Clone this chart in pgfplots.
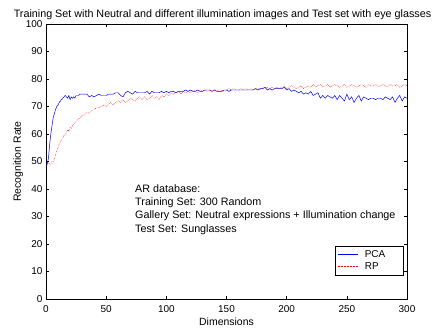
\documentclass[border=0pt]{standalone}
\usepackage{pgfplots}
\pgfplotsset{compat=1.18}
\usepackage{fontspec}
\setmainfont{Liberation Sans}
\begin{document}
\begin{tikzpicture}
\path[use as bounding box] (-46bp,-30bp) rectangle (389bp,299bp);
\begin{axis}[
  at={(0,0)}, anchor=south west,
  scale only axis, width=361bp, height=275bp,
  xmin=0, xmax=300, ymin=0, ymax=100,
  xtick={0,50,...,300}, ytick={0,10,...,100},
  tick align=inside, tickwidth=3bp,
  axis line style={black, line width=0.5pt},
  every tick/.style={black, line width=0.5pt},
  font=\fontsize{10.5}{12}\selectfont,
  tick label style={font=\fontsize{10}{12}\selectfont},
  xticklabel style={yshift=-3bp},
  /pgf/number format/assume math mode=true,
  xlabel={Dimensions}, ylabel={Recognition Rate},
  xlabel style={yshift=1bp},
  ylabel style={yshift=-4bp},
  title={Training Set with Neutral and different illumination images and Test set with eye glasses},
  title style={font=\fontsize{10.8}{12}\selectfont, yshift=-5bp, xshift=-4bp},
  legend style={at={(rel axis cs:0.989,0.193)}, anchor=north east, draw=black, fill=white,
    font=\fontsize{10}{11}\selectfont, cells={anchor=west}, inner xsep=2bp, inner ysep=2bp, row sep=0bp,
    /tikz/every odd column/.append style={column sep=5bp}},
  legend image code/.code={\draw[#1] (0bp,0bp) -- (20bp,0bp);},
]
\addplot[blue, line width=0.5pt] coordinates {
(1,49)(2,51)(3,56)(4,60)(5,63)(6,66)(7,67.5)(8,69)(9,70)(10,70.5)(11,71.5)(12,72)(13,72.5)(14,73)(15,73.5)(16,74)(17,73.5)(18,73)(19,74)(20,72.5)(21,73.5)(22,73)(23,73.5)(24,73)(25,74)(26,74)(27,74)(28,74.5)(29,74.5)(30,74.5)
(32,74.5)(34,74.5)(36,73.5)(38,74)(40,73.5)(42,74)(44,74.5)(46,74)(48,74)(50,74)(52,74.5)(54,74.5)(56,74.5)(58,75)(60,75)(62,74)(64,73.5)(66,75)(68,75.5)(70,75)(72,74.5)(74,75.5)(76,75)(78,75)(80,75)(82,75)(84,75.5)(86,74.5)(88,75.5)(90,75)(92,75)(94,75)(96,75.5)(98,75)(100,75.5)
(102,75)(104,75.5)(106,75.5)(108,75)(110,75.5)(112,75.5)(114,75.5)(116,76)(118,75.5)(120,76)(122,75.5)(124,75.5)(126,76)(128,75.5)(130,75.5)(132,76)(134,76)(136,76)(138,75.5)(140,76)(142,75.5)(144,75.5)(146,75.5)(148,76)(150,76)
(152,75.5)(154,76)(156,76)(158,76)(160,76)(162,76)(164,76)(166,76)(168,76)(170,76)(172,76)(174,76.5)(176,76)(178,76.5)(180,76.5)(182,77)(184,76)(186,76.5)(188,76)(190,76.5)(192,76.5)(194,76.5)(196,76.5)(198,77)(200,76)
(202,76.5)(204,75.5)(206,76)(208,75.5)(210,75)(212,75.5)(214,74.5)(216,75)(218,74.5)(220,75.5)(222,74)(224,74.5)(226,75)(228,73)(230,74)(232,73)(234,74)(236,73.5)(238,73)(240,74)(242,72.5)(244,74)(246,73)(248,72)(250,74.5)
(252,72.5)(254,73.5)(256,71.5)(258,73)(260,74)(262,72)(264,73.5)(266,73)(268,72.5)(270,73)(272,73)(274,72.5)(276,73)(278,73)(280,72.5)(282,73.5)(284,73)(286,72.5)(288,73.5)(290,71.5)(292,73)(294,74)(296,72)(298,73.5)(300,73)
};
\addlegendentry{\makebox[34bp][l]{PCA}}
\addplot[red, densely dotted, line width=0.5pt] coordinates {
(1,49)(2,49.5)(3,49)(4,49)(5,50)(6,50)(7,51)(8,52.5)(9,54)(10,55)(11,56.5)(12,57)(13,58)(14,58.5)(15,59.5)(16,60)(17,60.5)(18,61.5)(19,61)(20,62.5)(21,62)(22,63)(23,63.5)(24,64)(25,64.5)(26,65)(27,65.5)(28,65.5)(29,66.5)(30,66.5)
(32,67)(34,68)(36,67.5)(38,68.5)(40,69)(42,69.5)(44,69.5)(46,70)(48,70.5)(50,70)(52,71)(54,71.5)(56,70.5)(58,71.5)(60,72)(62,71.5)(64,72.5)(66,71.5)(68,72)(70,73)(72,72.5)(74,72)(76,73)(78,73.5)(80,72.5)(82,73.5)(84,72.5)(86,73)(88,74)(90,73)(92,73.5)(94,72.5)(96,74)(98,73.5)(100,74.5)
(102,74)(104,75)(106,74.5)(108,75)(110,75.5)(112,74.5)(114,75.5)(116,75)(118,75.5)(120,75)(122,76)(124,75.5)(126,75)(128,76)(130,75.5)(132,76)(134,75.5)(136,76)(138,75.5)(140,76)(142,76)(144,75.5)(146,76)(148,75.5)(150,76)
(152,76.5)(154,76)(156,76.5)(158,76)(160,76)(162,76.5)(164,76)(166,76.5)(168,76)(170,76.5)(172,76)(174,76.5)(176,76.5)(178,76)(180,76.5)(182,76.5)(184,77)(186,76.5)(188,77)(190,76.5)(192,77)(194,76.5)(196,77)(198,77.5)(200,76.5)
(202,77)(204,77.5)(206,77)(208,76.5)(210,77)(212,77.5)(214,76.5)(216,77)(218,77.5)(220,77)(222,78)(224,77)(226,77.5)(228,78)(230,77)(232,77.5)(234,78)(236,77)(238,77.5)(240,78)(242,77.5)(244,77)(246,77.5)(248,78)(250,77)
(252,77.5)(254,78)(256,77.5)(258,77)(260,77.5)(262,78)(264,77.5)(266,77)(268,78)(270,77.5)(272,77.5)(274,78)(276,77)(278,77.5)(280,78)(282,77.5)(284,77)(286,78)(288,77.5)(290,77.5)(292,78)(294,77)(296,77.5)(298,78)(300,77.5)
};
\addlegendentry{\makebox[34bp][l]{RP}}
\node[anchor=north west, align=left, inner sep=0pt, font=\fontsize{10.8}{13.5}\selectfont] at (axis cs:74,41.8) {AR database:\\Training Set: 300 Random\\Gallery Set: Neutral expressions + Illumination change\\Test Set: Sunglasses};
\end{axis}
\end{tikzpicture}
\end{document}
